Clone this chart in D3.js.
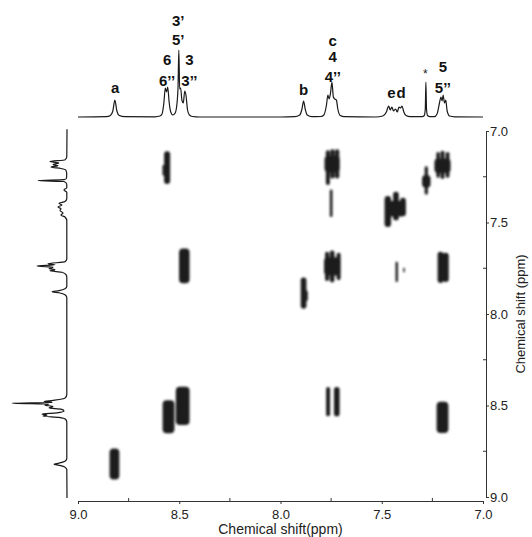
<!DOCTYPE html>
<html>
<head>
<meta charset="utf-8">
<script src="https://cdn.jsdelivr.net/npm/d3@7"></script>
<style>
  body { margin: 0; background: #fff; }
  svg { display: block; font-family: "Liberation Sans", Arial, sans-serif; }
  .trace { fill: none; stroke: #1a1a1a; stroke-width: 1.2; stroke-linejoin: round; }
  .axis path, .axis line { stroke: #333; }
  .axis text { font-size: 13px; fill: #222; font-family: "Liberation Sans", Arial, sans-serif; }
  .lbl { font-size: 15px; font-weight: bold; fill: #111; text-anchor: middle; }
</style>
</head>
<body>
<svg id="chart" width="532" height="537">
  <defs>
    <filter id="soft" x="-50%" y="-50%" width="200%" height="200%">
      <feGaussianBlur stdDeviation="1"/>
    </filter>
  </defs>
  <g id="cross"></g>
  <g id="top"></g>
  <g id="left"></g>
  <g id="labels"></g>
  <g id="x_axis" class="axis"></g>
  <g id="y_axis" class="axis"></g>
</svg>
<script>
// 1D projection on top: [ppm, intensity]
let top_trace = [
  [9.00, 0], [8.86, 0.3], [8.84, 1.5], [8.828, 6], [8.818, 17], [8.808, 6], [8.796, 1.5], [8.77, 0.3],
  [8.62, 0.2], [8.595, 1], [8.585, 3], [8.576, 14], [8.569, 29], [8.563, 25], [8.557, 30], [8.55, 15],
  [8.542, 5], [8.532, 2], [8.52, 4], [8.51, 16], [8.506, 30], [8.502, 67], [8.498, 28], [8.493, 29],
  [8.487, 17], [8.48, 14], [8.473, 26], [8.467, 22], [8.459, 7], [8.45, 2], [8.435, 0.5], [8.40, 0],
  [8.00, 0], [7.93, 0.3], [7.905, 2], [7.894, 8], [7.886, 16], [7.878, 8], [7.868, 2], [7.845, 0.3],
  [7.80, 0.5], [7.786, 2], [7.773, 12], [7.766, 22], [7.76, 18], [7.753, 24], [7.746, 35], [7.739, 20],
  [7.732, 18], [7.724, 17], [7.717, 8], [7.705, 1.5], [7.685, 0.3],
  [7.53, 0], [7.495, 1], [7.477, 5], [7.466, 11], [7.458, 7], [7.45, 10], [7.442, 6], [7.432, 8],
  [7.423, 5], [7.415, 10], [7.407, 9], [7.4, 11], [7.391, 5], [7.38, 1.5], [7.36, 0.3],
  [7.30, 0.3], [7.29, 1.5], [7.285, 8], [7.282, 35], [7.279, 8], [7.274, 1.5], [7.262, 0.3],
  [7.24, 0.3], [7.227, 3], [7.214, 15], [7.208, 20], [7.202, 16], [7.197, 22], [7.19, 14], [7.184, 17],
  [7.177, 6], [7.165, 1], [7.14, 0.2], [7.00, 0]
];

// 1D projection on the left: [ppm, intensity]
let left_trace = [
  [6.99, 0], [7.14, 0.2], [7.158, 2], [7.167, 17], [7.175, 8], [7.183, 14], [7.19, 9], [7.197, 16],
  [7.205, 6], [7.215, 1], [7.235, 0.3], [7.258, 0.5], [7.266, 3], [7.271, 29], [7.276, 3], [7.29, 0.3],
  [7.31, 0.2], [7.322, 3], [7.335, 0.2], [7.37, 0.2], [7.385, 2], [7.395, 8], [7.405, 5], [7.415, 9],
  [7.425, 6], [7.435, 7], [7.448, 4], [7.46, 6], [7.47, 2], [7.49, 0.2],
  [7.70, 0.2], [7.715, 2], [7.725, 19], [7.731, 12], [7.738, 30], [7.745, 14], [7.752, 18], [7.758, 12],
  [7.764, 17], [7.772, 5], [7.785, 1], [7.80, 0.2],
  [7.85, 0.2], [7.862, 2], [7.872, 8], [7.878, 15], [7.884, 8], [7.895, 2], [7.91, 0.2],
  [8.44, 0.2], [8.46, 2], [8.472, 14], [8.478, 23], [8.483, 15], [8.488, 55], [8.493, 18], [8.498, 22],
  [8.505, 14], [8.513, 18], [8.52, 6], [8.53, 3], [8.54, 10], [8.547, 25], [8.553, 20], [8.558, 24],
  [8.565, 8], [8.575, 1.5], [8.59, 0.2],
  [8.79, 0.2], [8.805, 2], [8.815, 8], [8.821, 13], [8.827, 8], [8.837, 2], [8.85, 0.2], [9.005, 0]
];

// cross peaks: [f2 ppm, f1 ppm, width ppm, height ppm]
let cross_peaks = [
  [8.560, 7.200, 0.030, 0.180], [8.575, 7.215, 0.015, 0.060],
  [7.766, 7.200, 0.020, 0.190], [7.743, 7.180, 0.022, 0.160], [7.720, 7.180, 0.020, 0.160], [7.745, 7.180, 0.075, 0.090],
  [7.750, 7.395, 0.013, 0.150],
  [7.470, 7.440, 0.032, 0.170], [7.430, 7.410, 0.028, 0.155], [7.395, 7.415, 0.028, 0.100], [7.430, 7.425, 0.095, 0.085],
  [7.280, 7.270, 0.016, 0.155], [7.280, 7.275, 0.042, 0.070],
  [7.222, 7.185, 0.017, 0.140], [7.200, 7.185, 0.019, 0.155], [7.175, 7.185, 0.019, 0.140], [7.200, 7.190, 0.080, 0.080],
  [8.475, 7.737, 0.052, 0.190],
  [7.770, 7.740, 0.020, 0.160], [7.745, 7.740, 0.023, 0.175], [7.713, 7.740, 0.020, 0.150], [7.745, 7.740, 0.080, 0.100],
  [7.426, 7.770, 0.012, 0.110], [7.390, 7.760, 0.008, 0.025],
  [7.210, 7.745, 0.028, 0.170], [7.185, 7.745, 0.032, 0.160],
  [7.886, 7.885, 0.028, 0.170], [7.875, 7.900, 0.020, 0.060],
  [8.553, 8.561, 0.058, 0.180], [8.483, 8.502, 0.068, 0.210],
  [7.765, 8.479, 0.020, 0.160], [7.722, 8.479, 0.028, 0.160],
  [7.200, 8.565, 0.058, 0.170],
  [8.820, 8.820, 0.048, 0.170]
];

// peak assignments on the top spectrum
let label_texts = [["a"], ["6", "6’’"], ["3’", "5’"], ["3", "3’’"], ["b"], ["c", "4", "4’’"], ["ed"], ["5", "5’’"]];
let label_ppm = [8.817, 8.56, 8.505, 8.45, 7.886, 7.742, 7.425, 7.198];
let star_ppm = 7.285;

let x_ticks = [9.0, 8.5, 8.0, 7.5, 7.0];
let y_ticks = [7.0, 7.5, 8.0, 8.5, 9.0];
let minor_ticks = [8.75, 8.25, 7.75, 7.25];

let scales = {
  x: d3.scaleLinear().domain([9.0, 7.0]).range([78, 483]),
  y: d3.scaleLinear().domain([7.0, 9.0]).range([131, 497]),
  top: d3.scaleLinear().domain([0, 70]).range([117, 47]),
  left: d3.scaleLinear().domain([0, 60]).range([67, 7])
};

function draw_cross() {
  d3.select("#cross")
    .attr("filter", "url(#soft)")
    .selectAll("rect")
    .data(cross_peaks).enter()
    .append("rect")
    .attr("x", d => scales.x(d[0] + d[2] / 2))
    .attr("y", d => scales.y(d[1] - d[3] / 2))
    .attr("width", d => scales.x(d[0] - d[2] / 2) - scales.x(d[0] + d[2] / 2))
    .attr("height", d => scales.y(d[1] + d[3] / 2) - scales.y(d[1] - d[3] / 2))
    .attr("rx", d => Math.min(4, (scales.x(d[0] - d[2] / 2) - scales.x(d[0] + d[2] / 2)) / 2))
    .attr("fill", "#1e1e1e");
}

function draw_traces() {
  let top_line = d3.line()
    .x(d => scales.x(d[0]))
    .y(d => scales.top(d[1]))
    .curve(d3.curveMonotoneX);
  d3.select("#top").append("path")
    .attr("class", "trace")
    .attr("d", top_line(top_trace));

  let left_line = d3.line()
    .x(d => scales.left(d[1]))
    .y(d => scales.y(d[0]))
    .curve(d3.curveMonotoneY);
  d3.select("#left").append("path")
    .attr("class", "trace")
    .attr("d", left_line(left_trace));
}

function draw_labels() {
  // baseline of the lowest line of each label group
  let bottoms = [93, 86, 45, 86, 95, 82, 98, 93];
  let steps = [0, 21, 19, 21, 0, [20, 16], 0, 21];
  let g = d3.select("#labels");
  label_texts.forEach((lines, i) => {
    let y = bottoms[i];
    for (let k = lines.length - 1; k >= 0; k--) {
      let t = g.append("text").attr("class", "lbl")
        .attr("x", scales.x(label_ppm[i]))
        .attr("y", y)
        .text(lines[k]);
      if (lines[k] == "ed") t.attr("letter-spacing", "1px");
      let s = Array.isArray(steps[i]) ? steps[i][lines.length - 1 - k] : steps[i];
      y -= s;
    }
  });
  g.append("text")
    .attr("x", scales.x(star_ppm))
    .attr("y", 78)
    .attr("text-anchor", "middle")
    .attr("font-size", 12)
    .attr("fill", "#222")
    .text("*");
}

function draw_axes() {
  let x_axis = d3.axisBottom(scales.x)
    .tickValues(x_ticks)
    .tickFormat(d3.format(".1f"))
    .tickSizeInner(3).tickSizeOuter(0).tickPadding(6);
  d3.select("#x_axis")
    .attr("transform", "translate(0, 501)")
    .call(x_axis);
  d3.select("#x_axis").selectAll(".minor")
    .data(minor_ticks).enter()
    .append("line")
    .attr("class", "minor")
    .attr("x1", d => scales.x(d)).attr("x2", d => scales.x(d))
    .attr("y1", 0).attr("y2", -3);
  d3.select("#x_axis").append("text")
    .attr("x", (scales.x(9.0) + scales.x(7.0)) / 2)
    .attr("y", 33)
    .attr("text-anchor", "middle")
    .attr("fill", "#222")
    .style("font-size", "14px")
    .text("Chemical shift(ppm)");

  let y_axis = d3.axisRight(scales.y)
    .tickValues(y_ticks)
    .tickFormat(d3.format(".1f"))
    .tickSizeInner(3).tickSizeOuter(0).tickPadding(1);
  d3.select("#y_axis")
    .attr("transform", "translate(486, 0)")
    .call(y_axis);
  d3.select("#y_axis").selectAll(".minor")
    .data(minor_ticks).enter()
    .append("line")
    .attr("class", "minor")
    .attr("y1", d => scales.y(d)).attr("y2", d => scales.y(d))
    .attr("x1", 0).attr("x2", -3);
  d3.select("#y_axis").append("text")
    .attr("transform", `translate(39, ${(scales.y(7.0) + scales.y(9.0)) / 2}) rotate(-90)`)
    .attr("text-anchor", "middle")
    .attr("fill", "#222")
    .style("font-size", "13px")
    .text("Chemical shift (ppm)");
}

draw_cross();
draw_traces();
draw_labels();
draw_axes();
</script>
</body>
</html>
